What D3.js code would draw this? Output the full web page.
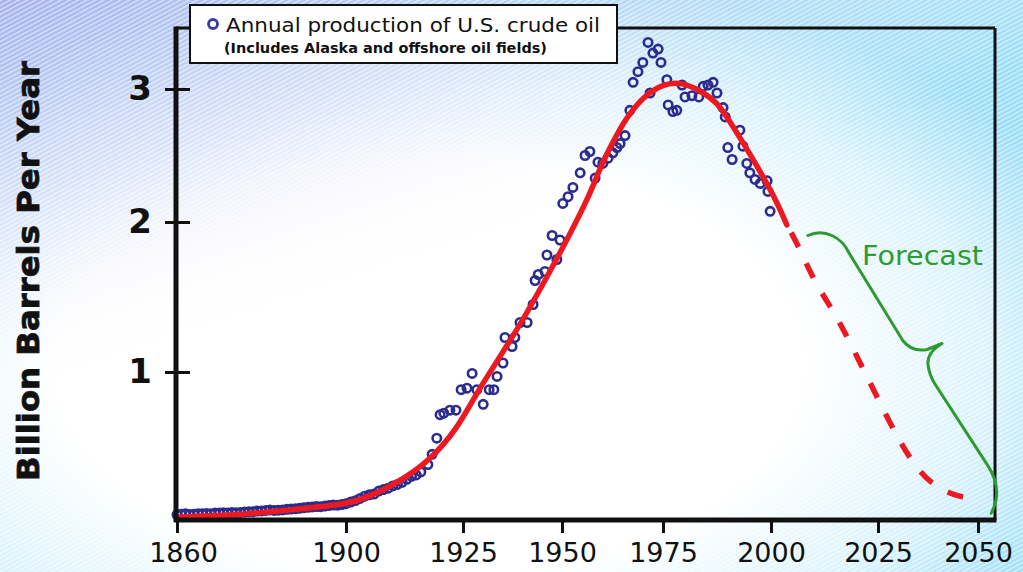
<!DOCTYPE html>
<html>
<head>
<meta charset="utf-8">
<script src="https://cdn.jsdelivr.net/npm/d3@7"></script>
<style>
  html, body { margin: 0; padding: 0; background: #ffffff; }
  svg { display: block; }
</style>
</head>
<body>
<svg id="chart" width="1023" height="572"></svg>
<script>
// ---------------- DATA ----------------
const xTickYears = [1860, 1900, 1925, 1950, 1975, 2000, 2025, 2050];
const yTickValues = [1, 2, 3];

// Annual production of U.S. crude oil (billion barrels / year)
const prodYears = [
  1860,1861,1862,1863,1864,1865,1866,1867,1868,1869,
  1870,1871,1872,1873,1874,1875,1876,1877,1878,1879,
  1880,1881,1882,1883,1884,1885,1886,1887,1888,1889,
  1890,1891,1892,1893,1894,1895,1896,1897,1898,1899,
  1900,1901,1902,1903,1904,1905,1906,1907,1908,1909,
  1910,1911,1912,1913,1914,1915,1916,
  1917.5,1918.4,1919.4,1920.1,1920.9,1922.2,1923.5,1924.6,1926.0,1927.3,
  1928.5,1930.1,1931.6,1932.8,1933.6,1935.1,1935.6,1937.4,1938.1,1939.4,
  1941.2,1942.7,1943.2,1944.0,1945.7,1946.2,1947.5,1948.7,1949.5,1950.2,
  1951.5,1952.7,1954.5,1955.7,1956.9,1958.2,1958.9,1960.1,1961.4,1962.6,
  1963.6,1964.4,1965.6,1966.8,1967.6,1968.8,1970.0,1971.3,1971.8,1972.5,
  1973.8,1974.5,1975.9,1976.2,1977.3,1978.2,1979.4,1980.1,1981.7,1983.3,
  1984.3,1985.4,1986.6,1987.5,1988.9,1989.4,1990.0,1991.0,1992.8,1993.5,
  1994.4,1995.1,1996.3,1997.5,1999.1,1999.3,1999.8
];
const prodValues = [
  0.030,0.032,0.035,0.030,0.033,0.036,0.035,0.038,0.036,0.040,
  0.040,0.042,0.040,0.045,0.043,0.045,0.047,0.050,0.050,0.054,
  0.055,0.058,0.062,0.058,0.060,0.062,0.066,0.068,0.070,0.073,
  0.077,0.080,0.082,0.085,0.084,0.088,0.092,0.095,0.094,0.098,
  0.104,0.115,0.125,0.140,0.155,0.165,0.170,0.190,0.200,0.210,
  0.225,0.235,0.250,0.270,0.290,0.300,0.320,
  0.37,0.44,0.55,0.71,0.72,0.74,0.74,0.88,0.89,0.99,
  0.88,0.78,0.88,0.88,0.97,1.06,1.23,1.17,1.23,1.33,
  1.33,1.45,1.61,1.65,1.67,1.78,1.91,1.75,1.88,2.14,
  2.19,2.26,2.37,2.50,2.53,2.33,2.45,2.44,2.48,2.52,
  2.56,2.59,2.65,2.84,3.05,3.13,3.20,3.35,2.97,3.27,
  3.30,3.20,3.07,2.88,2.83,2.84,3.03,2.94,2.95,2.94,
  3.02,3.03,3.05,2.97,2.86,2.79,2.56,2.47,2.69,2.57,
  2.44,2.37,2.32,2.29,2.31,2.23,2.08
];

// Fitted (Hubbert) curve, historical part
const fitYears = [1860.7,1874.2,1886.0,1899.3,1905.1,1912.2,1917.9,1923.7,1928.5,1932.6,
  1936.9,1940.2,1948.7,1956.9,1959.4,1962.6,1965.6,1970.0,1975.0,1979.4,
  1983.6,1987.5,1989.8,1993.5,1997.5,2001.4,2003.7];
const fitValues = [0.014,0.027,0.06,0.095,0.15,0.27,0.40,0.61,0.86,1.03,
  1.21,1.35,1.75,2.20,2.41,2.60,2.77,2.94,3.04,3.05,
  2.99,2.90,2.79,2.60,2.38,2.15,1.98];

// Forecast part of the curve (dashed)
const forecastYears = [2003.7,2006.1,2010.3,2015.0,2018.9,2023.1,2026.75,2031.0,2035.5,2040.5,2045.5,2048.5];
const forecastValues = [1.98,1.86,1.59,1.39,1.17,0.93,0.72,0.50,0.31,0.20,0.15,0.14];

// ---------------- LAYOUT ----------------
const W = 1023, H = 572;
const svg = d3.select("#chart");
const plot = { left: 176, right: 995, top: 28, bottom: 520 };

const x = d3.scaleLinear().domain(xTickYears).range([177, 346, 463, 562, 663, 771, 878, 978]);
const y = d3.scaleLinear().domain([0, 1, 2, 3]).range([519, 372, 222, 89]);

// ---------------- BACKGROUND ----------------
const defs = svg.append("defs");
const rg = defs.append("radialGradient").attr("id", "bgRad")
  .attr("cx", "42%").attr("cy", "64%").attr("r", "70%");
rg.append("stop").attr("offset", "0").attr("stop-color", "#ffffff");
rg.append("stop").attr("offset", "0.52").attr("stop-color", "#ffffff");
rg.append("stop").attr("offset", "0.78").attr("stop-color", "#d8f2fd");
rg.append("stop").attr("offset", "1").attr("stop-color", "#96dbf7");

const lg = defs.append("linearGradient").attr("id", "bgLav")
  .attr("x1", "0").attr("y1", "0").attr("x2", "0.45").attr("y2", "0.75");
lg.append("stop").attr("offset", "0").attr("stop-color", "#a4acec").attr("stop-opacity", 0.95);
lg.append("stop").attr("offset", "0.35").attr("stop-color", "#c6ccf4").attr("stop-opacity", 0.5);
lg.append("stop").attr("offset", "0.7").attr("stop-color", "#ffffff").attr("stop-opacity", 0);

const pat = defs.append("pattern").attr("id", "stripes")
  .attr("width", 4).attr("height", 4).attr("patternUnits", "userSpaceOnUse")
  .attr("patternTransform", "rotate(-28)");
pat.append("rect").attr("width", 4).attr("height", 1.6).attr("fill", "#ffffff").attr("opacity", 0.55);

svg.append("rect").attr("width", W).attr("height", H).attr("fill", "#ffffff");
svg.append("rect").attr("width", W).attr("height", H).attr("fill", "url(#bgRad)");
svg.append("rect").attr("width", W).attr("height", H).attr("fill", "url(#bgLav)");
svg.append("rect").attr("width", W).attr("height", H).attr("fill", "url(#stripes)");

// ---------------- FRAME ----------------
const frame = svg.append("g");
frame.append("line").attr("x1", plot.left).attr("x2", plot.right).attr("y1", plot.top).attr("y2", plot.top)
  .attr("stroke", "#111").attr("stroke-width", 3);
frame.append("line").attr("x1", plot.right).attr("x2", plot.right).attr("y1", plot.top).attr("y2", plot.bottom)
  .attr("stroke", "#111").attr("stroke-width", 3);

// ---------------- SERIES ----------------
const fitData = fitYears.map((d, i) => [d, fitValues[i]]);
const fcData = forecastYears.map((d, i) => [d, forecastValues[i]]);
const prodData = prodYears.map((d, i) => [d, prodValues[i]]);

const line = d3.line().x(d => x(d[0])).y(d => y(d[1])).curve(d3.curveBasis);

svg.append("g").selectAll("circle").data(prodData).join("circle")
  .attr("cx", d => x(d[0])).attr("cy", d => y(d[1])).attr("r", 4.2)
  .attr("fill", "none").attr("stroke", "#2c2c8e").attr("stroke-width", 2.6);

svg.append("path").datum(fitData).attr("d", line)
  .attr("fill", "none").attr("stroke", "#ec1a20").attr("stroke-width", 5.5)
  .attr("stroke-linecap", "round").attr("stroke-linejoin", "round");

svg.append("path").datum(fcData).attr("d", line)
  .attr("fill", "none").attr("stroke", "#ec1a20").attr("stroke-width", 5.5)
  .attr("stroke-dasharray", "0 9 16 9");

// ---------------- AXES ----------------
const xAxis = svg.append("g").attr("transform", `translate(0,${plot.bottom})`)
  .call(d3.axisBottom(x).tickValues(xTickYears).tickSize(13).tickPadding(10).tickFormat(d3.format("d")));
xAxis.select(".domain").remove();
xAxis.selectAll(".tick line").attr("stroke", "#111").attr("stroke-width", 3);
xAxis.selectAll(".tick text").attr("fill", "#111")
  .style("font-family", "'DejaVu Sans', Verdana, sans-serif").style("font-size", "27px");
xAxis.selectAll(".tick text").filter(d => d === 1860).attr("dx", 6);

const yAxis = svg.append("g").attr("transform", `translate(${plot.left},0)`)
  .call(d3.axisLeft(y).tickValues(yTickValues).tickSize(11).tickPadding(22).tickFormat(d3.format("d")));
yAxis.select(".domain").remove();
yAxis.selectAll(".tick line").attr("stroke", "#111").attr("stroke-width", 3).attr("x2", 14).attr("x1", -11);
yAxis.selectAll(".tick text").attr("fill", "#111").attr("text-anchor", "middle").attr("x", -36)
  .style("font-family", "'DejaVu Sans', Verdana, sans-serif").style("font-size", "34px").style("font-weight", "bold");

frame.raise();
svg.append("line").attr("x1", plot.left).attr("x2", plot.left).attr("y1", plot.top - 1.5).attr("y2", plot.bottom + 2)
  .attr("stroke", "#111").attr("stroke-width", 5);
svg.append("line").attr("x1", plot.left - 2).attr("x2", plot.right + 1.5).attr("y1", plot.bottom).attr("y2", plot.bottom)
  .attr("stroke", "#111").attr("stroke-width", 5);

// Y-axis title
svg.append("text").attr("transform", "translate(28,271) rotate(-90)")
  .attr("text-anchor", "middle").attr("dominant-baseline", "central")
  .attr("textLength", 420).attr("lengthAdjust", "spacingAndGlyphs")
  .style("font-family", "'DejaVu Sans', Verdana, sans-serif").style("font-size", "31px").style("font-weight", "bold")
  .attr("fill", "#111").attr("stroke", "#111").attr("stroke-width", 0.8)
  .text("Billion Barrels Per Year");

// ---------------- LEGEND ----------------
const leg = svg.append("g");
leg.append("rect").attr("x", 190).attr("y", 5).attr("width", 427).attr("height", 58)
  .attr("fill", "#ffffff").attr("stroke", "#111").attr("stroke-width", 2);
leg.append("circle").attr("cx", 213).attr("cy", 24).attr("r", 4.5)
  .attr("fill", "#ffffff").attr("stroke", "#3a3aa2").attr("stroke-width", 2.8);
leg.append("text").attr("x", 226).attr("y", 32).attr("textLength", 374).attr("lengthAdjust", "spacingAndGlyphs")
  .style("font-family", "'DejaVu Sans', Verdana, sans-serif").style("font-size", "19px").attr("fill", "#111")
  .text("Annual production of U.S. crude oil");
leg.append("text").attr("x", 224).attr("y", 53).attr("textLength", 323).attr("lengthAdjust", "spacingAndGlyphs")
  .style("font-family", "'DejaVu Sans', Verdana, sans-serif").style("font-size", "13.5px").style("font-weight", "bold")
  .attr("fill", "#111").text("(Includes Alaska and offshore oil fields)");

// ---------------- FORECAST ANNOTATION ----------------
const green = "#2e9b30";
const p = d3.path();
p.moveTo(x(2008.6), y(1.91));
p.bezierCurveTo(x(2012.5), y(1.96), x(2016.5), y(1.90), x(2018.3), y(1.79));
p.lineTo(x(2031.2), y(1.21));
p.quadraticCurveTo(x(2033.5), y(1.13), x(2037.3), y(1.15));
p.lineTo(x(2041), y(1.19));
p.moveTo(x(2041), y(1.19));
p.quadraticCurveTo(x(2037.2), y(1.13), x(2037.5), y(1.05));
p.quadraticCurveTo(x(2037.8), y(0.98), x(2039.2), y(0.92));
p.lineTo(x(2052.3), y(0.37));
p.quadraticCurveTo(x(2056.5), y(0.20), x(2053.3), y(0.04));
svg.append("path").attr("d", p.toString()).attr("fill", "none")
  .attr("stroke", green).attr("stroke-width", 3).attr("stroke-linecap", "round").attr("stroke-linejoin", "round");

svg.append("text").attr("x", 862).attr("y", 265).attr("textLength", 121).attr("lengthAdjust", "spacingAndGlyphs")
  .style("font-family", "'DejaVu Sans', Verdana, sans-serif").style("font-size", "26px")
  .attr("fill", green).text("Forecast");
</script>
</body>
</html>
